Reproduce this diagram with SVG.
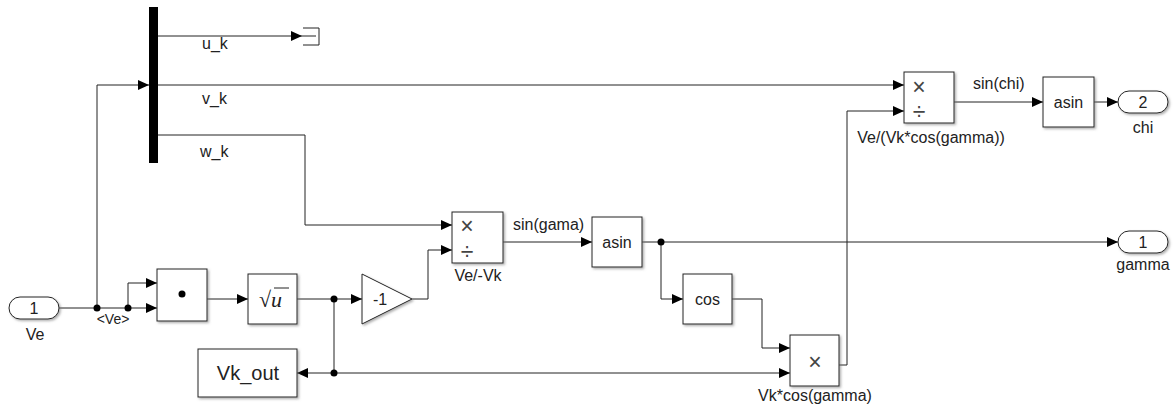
<svg xmlns="http://www.w3.org/2000/svg" width="1175" height="412" viewBox="0 0 1175 412">
<defs>
<style>
.blk{fill:#fff;stroke:#222;stroke-width:1;filter:url(#sh)}
.ln{fill:none;stroke:#222;stroke-width:1}
.arr{fill:none;stroke:#222;stroke-width:1;marker-end:url(#ah)}
.dot{fill:#000}
text{font-family:"Liberation Sans",Arial,sans-serif;font-size:16px;fill:#222}
.c{text-anchor:middle}
.op{font-size:23px;fill:#444;text-anchor:middle}
.sm{font-size:14px}
</style>
<filter id="sh" x="-10%" y="-10%" width="130%" height="130%">
<feDropShadow dx="1.5" dy="1.5" stdDeviation="0.8" flood-color="#777" flood-opacity="0.6"/>
</filter>
<marker id="ah" markerUnits="userSpaceOnUse" markerWidth="12" markerHeight="12" refX="11" refY="5" orient="auto">
<path d="M0,0 L11,5 L0,10 z" fill="#000"/>
</marker>
</defs>

<g id="connectors">
<path class="arr" d="M59,308 H157"/>
<path class="arr" d="M128,308 V283 H157"/>
<path class="arr" d="M97,308 V85 H149"/>
<path class="arr" d="M207,299 H248"/>
<path class="arr" d="M297,299 H362"/>
<path class="ln" d="M334,299 V373"/>
<path class="arr" d="M334,373 H297"/>
<path class="arr" d="M334,373 H790"/>
<path class="arr" d="M412,299 H428 V250 H452"/>
<path class="arr" d="M158,135 H305 V225 H452"/>
<path class="arr" d="M158,85 H904"/>
<path class="arr" d="M158,36 H302"/>
<path class="arr" d="M503,242 H592"/>
<path class="arr" d="M642,242 H1118"/>
<path class="arr" d="M661,242 V299 H683"/>
<path class="arr" d="M732,299 H762 V348 H790"/>
<path class="arr" d="M839,365 H847 V111 H904"/>
<path class="arr" d="M954,102 H1043"/>
<path class="arr" d="M1094,102 H1118"/>
<circle class="dot" cx="97" cy="308" r="3.5"/>
<circle class="dot" cx="128" cy="308" r="3.5"/>
<circle class="dot" cx="334" cy="299" r="3.5"/>
<circle class="dot" cx="334" cy="373" r="3.5"/>
<circle class="dot" cx="661" cy="242" r="3.5"/>
<text x="202" y="49">u_k</text>
<text x="202" y="104">v_k</text>
<text x="200" y="157">w_k</text>
<text class="sm c" x="113" y="324">&lt;Ve&gt;</text>
<text x="513" y="230">sin(gama)</text>
<text x="973" y="89">sin(chi)</text>
</g>

<g id="inport_Ve">
<rect class="blk" x="9" y="297" width="50" height="22" rx="11"/>
<text class="c" x="34" y="314">1</text>
<text class="c" x="35" y="340">Ve</text>
</g>

<g id="demux">
<rect x="149" y="7" width="9" height="156" fill="#000"/>
</g>

<g id="terminator">
<path class="ln" d="M302,36 H316 M303,28 H319 V45 H303"/>
</g>

<g id="dot_product">
<rect class="blk" x="157" y="269" width="50" height="52"/>
<circle cx="182" cy="294" r="3.5" fill="#000"/>
</g>

<g id="sqrt">
<rect class="blk" x="248" y="274" width="49" height="50"/>
<text x="259" y="307" style="font-family:'Liberation Serif','Times New Roman',serif;font-size:22px">√<tspan font-style="italic">u</tspan></text>
<line class="ln" x1="274" y1="288" x2="289" y2="288"/>
</g>

<g id="gain">
<polygon class="blk" points="362,274 412,299 362,324"/>
<text class="c" x="380" y="305">-1</text>
</g>

<g id="vk_out">
<rect class="blk" x="198" y="349" width="99" height="48"/>
<text class="c" x="248" y="380" style="font-size:20px">Vk_out</text>
</g>

<g id="divide_ve_vk">
<rect class="blk" x="452" y="212" width="51" height="51"/>
<text class="op" x="467" y="234">×</text>
<text class="op" x="467" y="260">÷</text>
<text class="c" x="478" y="281">Ve/-Vk</text>
</g>

<g id="asin_gamma">
<rect class="blk" x="592" y="217" width="50" height="50"/>
<text class="c" x="617" y="248">asin</text>
</g>

<g id="cos">
<rect class="blk" x="683" y="274" width="49" height="50"/>
<text class="c" x="707.5" y="305">cos</text>
</g>

<g id="product_vkcos">
<rect class="blk" x="790" y="335" width="49" height="51"/>
<text class="op" x="815" y="370">×</text>
<text class="c" x="815" y="401">Vk*cos(gamma)</text>
</g>

<g id="divide_chi">
<rect class="blk" x="904" y="72" width="50" height="51"/>
<text class="op" x="919" y="95">×</text>
<text class="op" x="919" y="120">÷</text>
<text class="c" x="931" y="143">Ve/(Vk*cos(gamma))</text>
</g>

<g id="asin_chi">
<rect class="blk" x="1043" y="77" width="51" height="50"/>
<text class="c" x="1068.5" y="108">asin</text>
</g>

<g id="outport_chi">
<rect class="blk" x="1118" y="91" width="50" height="22" rx="11"/>
<text class="c" x="1143" y="108">2</text>
<text class="c" x="1143" y="133">chi</text>
</g>

<g id="outport_gamma">
<rect class="blk" x="1118" y="231" width="50" height="22" rx="11"/>
<text class="c" x="1143" y="248">1</text>
<text class="c" x="1143" y="270">gamma</text>
</g>
</svg>
